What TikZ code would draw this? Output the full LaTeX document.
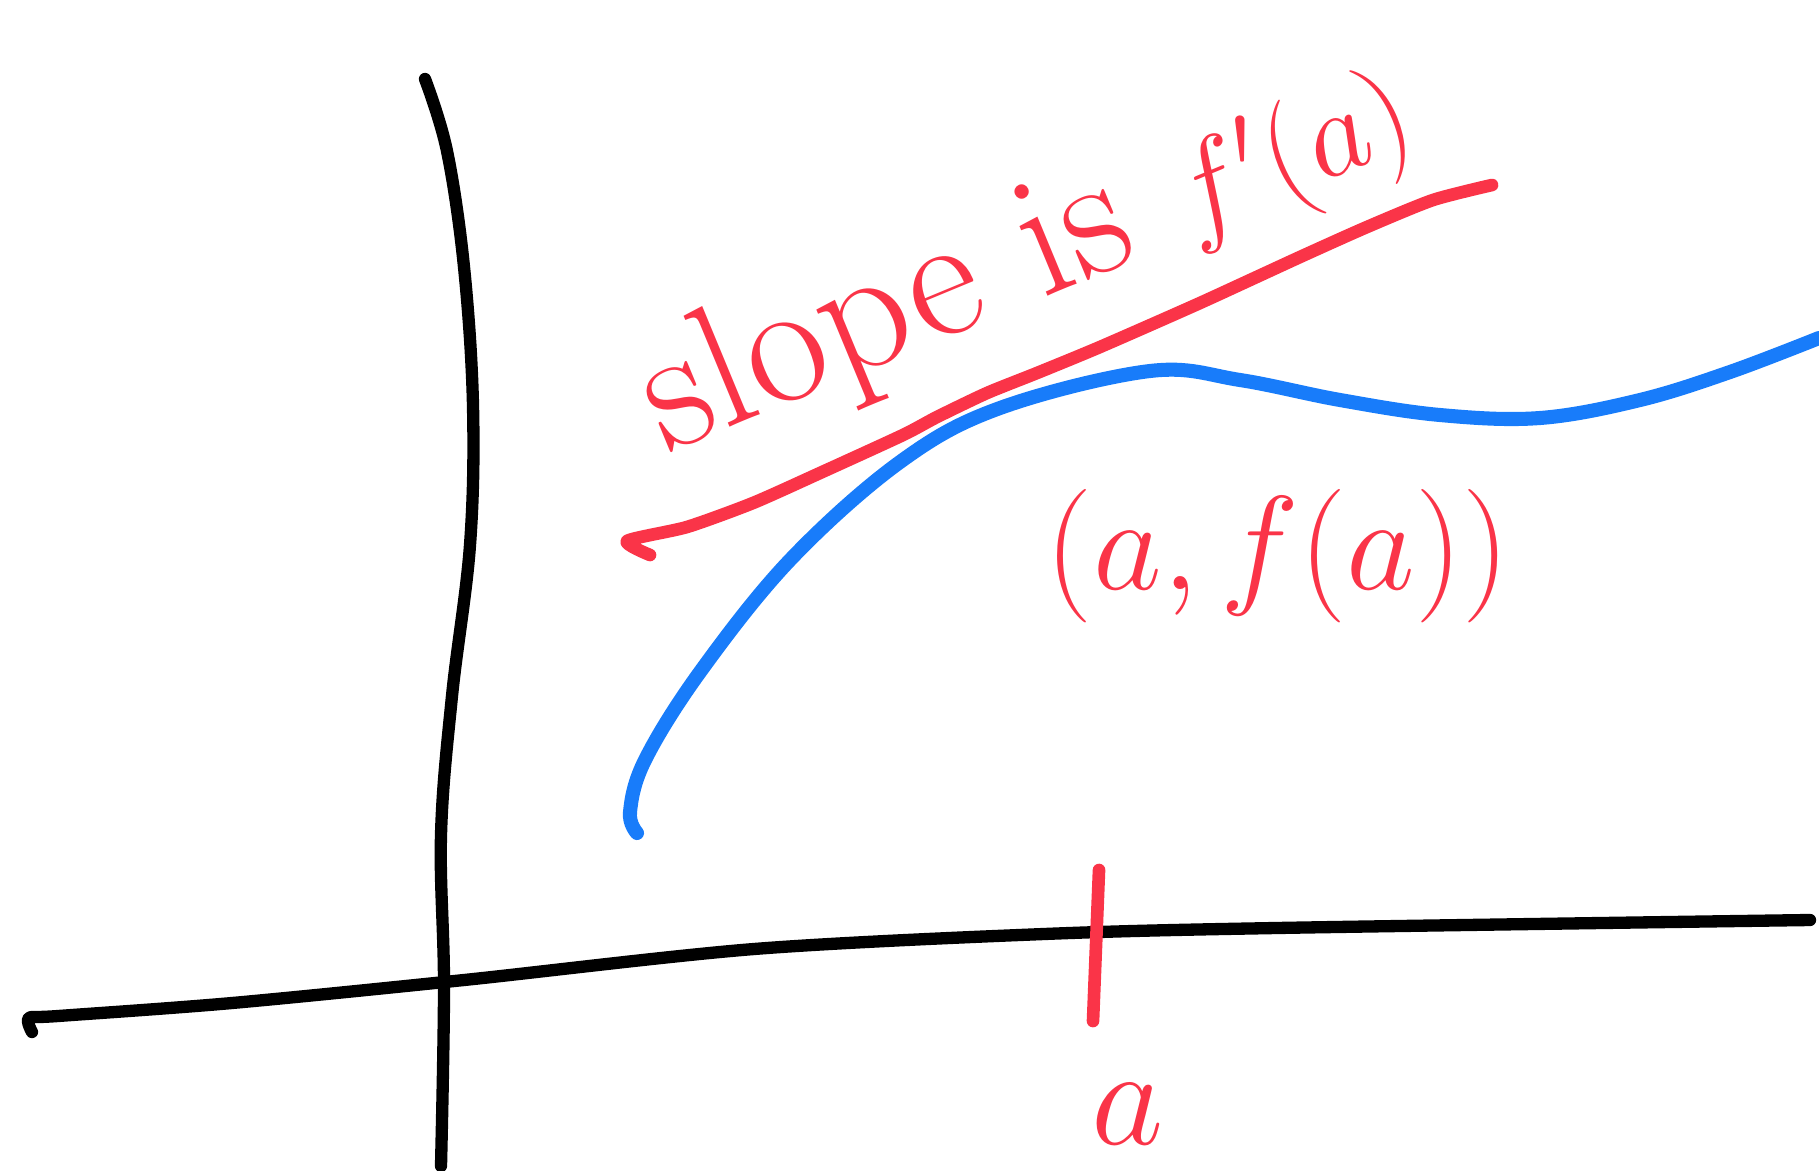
\RequirePackage{fix-cm}
\documentclass[tikz,border=0pt]{standalone}
\usepackage{xcolor}
\usepackage{tikz}
\usetikzlibrary{calc}
\definecolor{penred}{RGB}{250,52,72}
\definecolor{penblue}{RGB}{24,124,250}

\begin{document}
\begin{tikzpicture}[x=0.01cm,y=-0.01cm,
  axis/.style={draw=black,line width=3.5pt,line cap=round,line join=round},
  curve/.style={draw=penblue,line width=4pt,line cap=round,line join=round},
  tang/.style={draw=penred,line width=3.6pt,line cap=round,line join=round},
  lab/.style={text=penred,font=\fontsize{50}{58}\selectfont,inner sep=0pt}]
\useasboundingbox (0,0) rectangle (1819,1170);
% axes
\draw[axis] plot[smooth,tension=0.6] coordinates {(425,79) (447,151) (464,267) (473,406) (470,545) (452,696) (441,835) (444,986) (441,1166)};
\draw[axis] plot[smooth,tension=0.5] coordinates {(32,1032) (29,1018) (58,1016) (232,1003) (464,980) (754,949) (1044,934) (1276,928) (1810,920)};
% function
\draw[curve] plot[smooth,tension=0.6] coordinates {(637,833) (630,812) (645,760) (700,672) (790,560) (900,462) (1000,408) (1150,371) (1240,380) (1340,400) (1440,415) (1540,418) (1640,400) (1730,372) (1819,338)};
% tangent line
\draw[tang] plot[smooth,tension=0.4] coordinates {(650,555) (627,541) (687,527) (753,503) (820,473) (903,435) (937,417) (987,393) (1037,373) (1100,347) (1200,303) (1300,257) (1367,227) (1433,200) (1492,185)};
% tick at a
\coordinate (tickt) at (1099,870);
\coordinate (tickb) at (1093,1021);
\draw[tang] (tickt) -- (tickb);
\node[lab,rotate=22.5,anchor=base west] (slope) at (666,454) {slope is {\fontsize{35}{40}\selectfont$f'(a)$}};
\node[lab,font=\fontsize{38}{44}\selectfont] (pt) at (1278,556) {$(a,f(a))$};
\node[lab,font=\fontsize{40}{44}\selectfont] (alab) at (1128,1114) {$a$};
\end{tikzpicture}
\end{document}
